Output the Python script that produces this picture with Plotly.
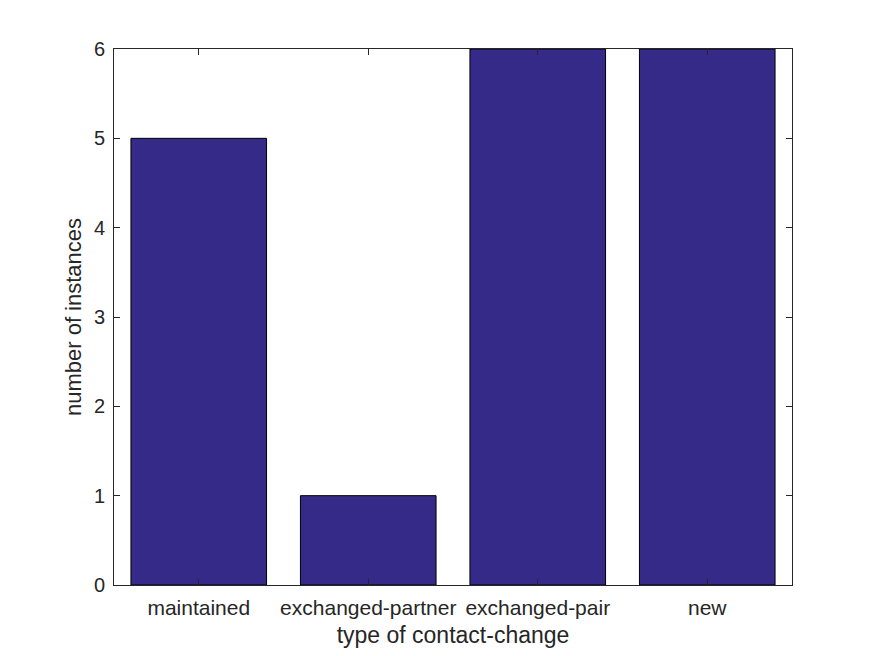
import plotly.graph_objects as go

categories = ["maintained", "exchanged-partner", "exchanged-pair", "new"]
counts = [5, 1, 6, 6]
y_ticks = [0, 1, 2, 3, 4, 5, 6]

bar_color = "#352a87"
axis_color = "#262626"

fig = go.Figure()
fig.add_trace(go.Bar(
    x=list(range(1, len(categories) + 1)), y=counts, width=0.8,
    marker=dict(color=bar_color, line=dict(color="black", width=1)),
))

fig.update_layout(
    width=875, height=656,
    margin=dict(l=106, r=91, t=41, b=79),
    plot_bgcolor="white", paper_bgcolor="white",
    font=dict(family="Liberation Sans, Arial, sans-serif", color=axis_color),
    showlegend=False,
)
fig.update_xaxes(
    range=[0.5, 4.5], tickvals=[1, 2, 3, 4], ticktext=categories,
    ticks="inside", ticklen=6, tickcolor=axis_color, tickfont=dict(size=21),
    showline=True, linecolor=axis_color, linewidth=1, mirror="allticks",
    showgrid=False, zeroline=False, ticklabelstandoff=4,
    title=dict(text="type of contact-change", font=dict(size=23), standoff=8),
)
fig.update_yaxes(
    range=[0, 6], tickvals=y_ticks,
    ticks="inside", ticklen=6, tickcolor=axis_color, tickfont=dict(size=20),
    showline=True, linecolor=axis_color, linewidth=1, mirror="allticks",
    showgrid=False, zeroline=False, ticklabelstandoff=4,
    title=dict(text="number of instances", font=dict(size=22), standoff=6),
)

fig.write_html("out.html")
